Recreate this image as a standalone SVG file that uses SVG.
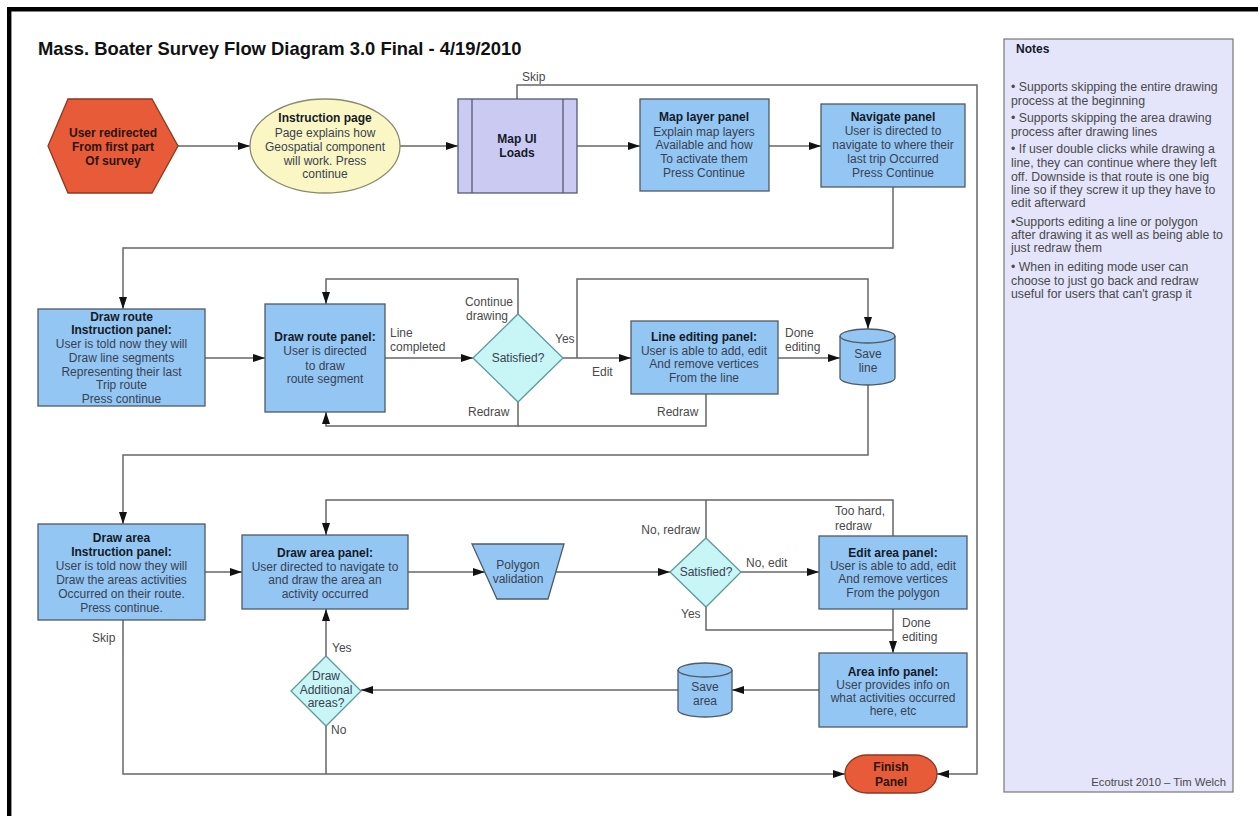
<svg xmlns="http://www.w3.org/2000/svg" width="1258" height="816" viewBox="0 0 1258 816">
<defs>
<marker id="ah" viewBox="0 0 12 8" refX="12" refY="4" markerWidth="12" markerHeight="8" markerUnits="userSpaceOnUse" orient="auto">
<path d="M0,0 L12,4 L0,8 z" fill="#111"/>
</marker>
<style>
text{font-family:"Liberation Sans",Arial,sans-serif;font-size:12px;fill:#3a4152}
.b{font-weight:bold;fill:#151a28}
.c{text-anchor:middle}
.e{text-anchor:end}
.lbl{fill:#4a4a4a}
.panel{fill:#93c6f3;stroke:#4f5a66;stroke-width:1.3}
.dia{fill:#c8f5f5;stroke:#5f9a9a;stroke-width:1.3}
.red{fill:#e85b38;stroke:#8a3a22;stroke-width:1.3}
.red-t{font-weight:bold;fill:#2a1510}
.con{fill:none;stroke:#666;stroke-width:1.5}
.arr{marker-end:url(#ah)}
.note{fill:#4a4a4a;font-size:12.3px}
</style>
</defs>
<rect x="0" y="0" width="1258" height="816" fill="#fff"/>
<path d="M9.2,816 V9.2 H1258" fill="none" stroke="#000" stroke-width="4.4"/>

<text x="38" y="55" class="b" style="font-size:18.4px;fill:#111">Mass. Boater Survey Flow Diagram 3.0 Final - 4/19/2010</text>

<g id="notes">
<rect x="1004" y="39" width="229" height="753" fill="#e4e4fb" stroke="#777" stroke-width="1.2"/>
<text x="1016" y="53" class="b">Notes</text>
<text class="note" x="1011" y="91">• Supports skipping the entire drawing</text>
<text class="note" x="1011" y="105">process at the beginning</text>
<text class="note" x="1011" y="122">• Supports skipping the area drawing</text>
<text class="note" x="1011" y="136">process after drawing lines</text>
<text class="note" x="1011" y="153">• If user double clicks while drawing a</text>
<text class="note" x="1011" y="167">line, they can continue where they left</text>
<text class="note" x="1011" y="181">off.  Downside is that route is one big</text>
<text class="note" x="1011" y="194">line so if they screw it up they have to</text>
<text class="note" x="1011" y="207">edit afterward</text>
<text class="note" x="1011" y="226">•Supports editing a line or polygon</text>
<text class="note" x="1011" y="239">after drawing it as well as being able to</text>
<text class="note" x="1011" y="252">just redraw them</text>
<text class="note" x="1011" y="271">• When in editing mode user can</text>
<text class="note" x="1011" y="285">choose to just go back and redraw</text>
<text class="note" x="1011" y="298">useful for users that can't grasp it</text>
<text class="note e" x="1226" y="786" style="font-size:11.3px">Ecotrust 2010 – Tim Welch</text>
</g>

<g id="connectors">
<path class="con arr" d="M178,146 H250"/>
<path class="con arr" d="M400,146 H458"/>
<path class="con arr" d="M577,146 H640"/>
<path class="con arr" d="M769,146 H821"/>
<path class="con arr" d="M893,187 V248 H123 V309"/>
<path class="con arr" d="M517,99 V85 H977 V774 H937"/>
<path class="con arr" d="M205,358 H265"/>
<path class="con arr" d="M385,358 H473"/>
<path class="con arr" d="M518,314 V279 H326 V304"/>
<path class="con arr" d="M563,358 H631"/>
<path class="con arr" d="M577,358 V279 H868 V329"/>
<path class="con arr" d="M518,402 V426 H326 V412"/>
<path class="con" d="M706,394 V426 H518"/>
<path class="con arr" d="M778,358 H840"/>
<path class="con arr" d="M868,385 V455 H123 V524"/>
<path class="con arr" d="M205,572 H242"/>
<path class="con arr" d="M408,572 H485"/>
<path class="con arr" d="M556,572 H670"/>
<path class="con arr" d="M706,538 V500 H326 V535"/>
<path class="con" d="M893,536 V500 H706"/>
<path class="con arr" d="M741,572 H819"/>
<path class="con" d="M706,607 V630 H893"/>
<path class="con arr" d="M893,609 V653"/>
<path class="con arr" d="M819,690 H732"/>
<path class="con arr" d="M678,690 H361"/>
<path class="con arr" d="M326,656 V609"/>
<path class="con" d="M326,726 V774"/>
<path class="con arr" d="M123,620 V774 H845"/>
</g>

<g id="labels">
<text class="lbl" x="522" y="81">Skip</text>
<text class="lbl" x="390" y="337">Line</text>
<text class="lbl" x="390" y="351">completed</text>
<text class="lbl e" x="513" y="306">Continue</text>
<text class="lbl e" x="508" y="320">drawing</text>
<text class="lbl" x="555" y="343">Yes</text>
<text class="lbl" x="592" y="376">Edit</text>
<text class="lbl" x="468" y="416">Redraw</text>
<text class="lbl" x="657" y="416">Redraw</text>
<text class="lbl" x="785" y="337">Done</text>
<text class="lbl" x="785" y="351">editing</text>
<text class="lbl" x="92" y="642">Skip</text>
<text class="lbl e" x="700" y="534">No, redraw</text>
<text class="lbl" x="746" y="567">No, edit</text>
<text class="lbl" x="835" y="515">Too hard,</text>
<text class="lbl" x="835" y="530">redraw</text>
<text class="lbl" x="681" y="618">Yes</text>
<text class="lbl" x="902" y="627">Done</text>
<text class="lbl" x="902" y="641">editing</text>
<text class="lbl" x="332" y="652">Yes</text>
<text class="lbl" x="331" y="734">No</text>
</g>

<g id="start">
<polygon class="red" points="48,146 68,99 152,99 178,146 152,193 68,193"/>
<text class="red-t c" x="113" y="137">User redirected</text>
<text class="red-t c" x="113" y="151">From first part</text>
<text class="red-t c" x="113" y="165">Of survey</text>
</g>

<g id="instruction-page">
<ellipse cx="325" cy="146" rx="75" ry="47" fill="#faf7c4" stroke="#8a8a70" stroke-width="1.3"/>
<text class="b c" x="325" y="122">Instruction page</text>
<text class="c" x="325" y="137">Page explains how</text>
<text class="c" x="325" y="151">Geospatial component</text>
<text class="c" x="325" y="165">will work. Press</text>
<text class="c" x="325" y="178">continue</text>
</g>

<g id="map-ui">
<rect x="458" y="99" width="119" height="94" fill="#cacaf3" stroke="#555a70" stroke-width="1.3"/>
<path d="M472,99 V193 M563,99 V193" stroke="#555a70" stroke-width="1.3"/>
<text class="b c" x="517" y="143">Map UI</text>
<text class="b c" x="517" y="157">Loads</text>
</g>

<g id="map-layer">
<rect class="panel" x="640" y="99" width="129" height="92"/>
<text class="b c" x="704" y="121">Map layer panel</text>
<text class="c" x="704" y="136">Explain map layers</text>
<text class="c" x="704" y="149">Available and how</text>
<text class="c" x="704" y="163">To activate them</text>
<text class="c" x="704" y="177">Press Continue</text>
</g>

<g id="navigate">
<rect class="panel" x="821" y="104" width="144" height="83"/>
<text class="b c" x="893" y="121">Navigate panel</text>
<text class="c" x="893" y="135">User is directed to</text>
<text class="c" x="893" y="149">navigate to where their</text>
<text class="c" x="893" y="163">last trip Occurred</text>
<text class="c" x="893" y="177">Press Continue</text>
</g>

<g id="draw-route-instruction">
<rect class="panel" x="38" y="309" width="167" height="97"/>
<text class="b c" x="121.5" y="321">Draw route</text>
<text class="b c" x="121.5" y="334">Instruction panel:</text>
<text class="c" x="121.5" y="348">User is told now they will</text>
<text class="c" x="121.5" y="362">Draw line segments</text>
<text class="c" x="121.5" y="376">Representing their last</text>
<text class="c" x="121.5" y="389">Trip route</text>
<text class="c" x="121.5" y="403">Press continue</text>
</g>

<g id="draw-route">
<rect class="panel" x="265" y="304" width="120" height="108"/>
<text class="b c" x="325" y="341">Draw route panel:</text>
<text class="c" x="325" y="355">User is directed</text>
<text class="c" x="325" y="370">to draw</text>
<text class="c" x="325" y="383">route segment</text>
</g>

<g id="satisfied-line">
<polygon class="dia" points="518,314 563,358 518,402 473,358"/>
<text class="c" x="518" y="362">Satisfied?</text>
</g>

<g id="line-editing">
<rect class="panel" x="631" y="321" width="147" height="73"/>
<text class="b c" x="704" y="341">Line editing panel:</text>
<text class="c" x="704" y="355">User is able to add, edit</text>
<text class="c" x="704" y="368">And remove vertices</text>
<text class="c" x="704" y="382">From the line</text>
</g>

<g id="save-line">
<path d="M840,336 A27.5,7 0 0,1 895,336 V378 A27.5,7 0 0,1 840,378 Z" fill="#93c6f3" stroke="#4f5a66" stroke-width="1.3"/>
<path d="M840,336 A27.5,7 0 0,0 895,336" fill="none" stroke="#4f5a66" stroke-width="1.3"/>
<text class="c" x="868" y="358">Save</text>
<text class="c" x="868" y="372">line</text>
</g>

<g id="draw-area-instruction">
<rect class="panel" x="38" y="524" width="167" height="96"/>
<text class="b c" x="121.5" y="542">Draw area</text>
<text class="b c" x="121.5" y="556">Instruction panel:</text>
<text class="c" x="121.5" y="570">User is told now  they will</text>
<text class="c" x="121.5" y="584">Draw the areas activities</text>
<text class="c" x="121.5" y="598">Occurred on their route.</text>
<text class="c" x="121.5" y="612">Press continue.</text>
</g>

<g id="draw-area">
<rect class="panel" x="242" y="535" width="166" height="74"/>
<text class="b c" x="325" y="557">Draw area panel:</text>
<text class="c" x="325" y="571">User directed to navigate to</text>
<text class="c" x="325" y="584">and draw the area an</text>
<text class="c" x="325" y="598">activity occurred</text>
</g>

<g id="polygon-validation">
<polygon class="panel" points="472,544 564,544 548,599 497,599"/>
<text class="c" x="518" y="569">Polygon</text>
<text class="c" x="518" y="583">validation</text>
</g>

<g id="satisfied-area">
<polygon class="dia" points="706,538 741,572 706,607 670,572"/>
<text class="c" x="706" y="576">Satisfied?</text>
</g>

<g id="edit-area">
<rect class="panel" x="819" y="536" width="148" height="73"/>
<text class="b c" x="893" y="557">Edit area panel:</text>
<text class="c" x="893" y="570">User is able to add, edit</text>
<text class="c" x="893" y="583">And remove vertices</text>
<text class="c" x="893" y="597">From the polygon</text>
</g>

<g id="area-info">
<rect class="panel" x="819" y="653" width="148" height="74"/>
<text class="b c" x="893" y="676">Area info panel:</text>
<text class="c" x="893" y="689">User provides info on</text>
<text class="c" x="893" y="702">what activities occurred</text>
<text class="c" x="893" y="715">here, etc</text>
</g>

<g id="save-area">
<path d="M678,670 A27,7 0 0,1 732,670 V710 A27,7 0 0,1 678,710 Z" fill="#93c6f3" stroke="#4f5a66" stroke-width="1.3"/>
<path d="M678,670 A27,7 0 0,0 732,670" fill="none" stroke="#4f5a66" stroke-width="1.3"/>
<text class="c" x="705" y="691">Save</text>
<text class="c" x="705" y="705">area</text>
</g>

<g id="draw-additional">
<polygon class="dia" points="326,656 361,691 326,726 291,691"/>
<text class="c" x="326" y="680">Draw</text>
<text class="c" x="326" y="694">Additional</text>
<text class="c" x="326" y="707">areas?</text>
</g>

<g id="finish">
<rect class="red" x="845" y="755" width="92" height="38" rx="22" ry="19"/>
<text class="red-t c" x="891" y="771">Finish</text>
<text class="red-t c" x="891" y="786">Panel</text>
</g>
</svg>
